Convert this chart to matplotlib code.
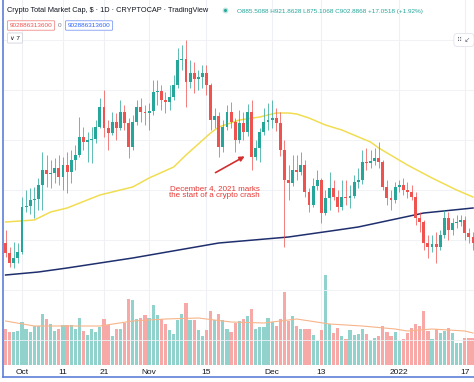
import matplotlib
matplotlib.use("Agg")
import matplotlib.pyplot as plt
import matplotlib.dates as mdates
import numpy as np
import pandas as pd
from matplotlib.lines import Line2D

plt.rcParams['font.family'] = ['Liberation Sans', 'DejaVu Sans']

# ---------------- data (total crypto market cap, $B; volume, $B) ----------------
start_date = "2021-09-27"
first_open = 1782
close = [1722, 1662, 1692, 1728, 1998, 2004, 2040, 2046, 2130, 2220,
         2196, 2202, 2232, 2178, 2250, 2208, 2280, 2310, 2418, 2388,
         2400, 2406, 2478, 2598, 2472, 2442, 2508, 2472, 2568, 2502,
         2358, 2508, 2598, 2568, 2562, 2574, 2688, 2694, 2640, 2628,
         2658, 2730, 2880, 2886, 2748, 2802, 2766, 2778, 2802, 2730,
         2520, 2544, 2358, 2478, 2568, 2508, 2400, 2502, 2448, 2568,
         2298, 2352, 2448, 2508, 2520, 2532, 2502, 2340, 2160, 2142,
         2220, 2208, 2250, 2088, 2010, 2124, 2160, 1962, 2052, 2112,
         2058, 1998, 2058, 2052, 2064, 2148, 2160, 2268, 2262, 2274,
         2292, 2268, 2118, 2052, 2040, 2118, 2130, 2100, 2088, 2058,
         1932, 1908, 1782, 1758, 1776, 1758, 1830, 1932, 1860, 1902,
         1908, 1920, 1842, 1818, 1782]
high = [1860, 1758, 1788, 1782, 2058, 2100, 2112, 2118, 2172, 2328,
        2310, 2280, 2292, 2310, 2298, 2328, 2340, 2370, 2538, 2478,
        2448, 2478, 2520, 2652, 2700, 2520, 2568, 2562, 2640, 2610,
        2532, 2550, 2640, 2652, 2610, 2622, 2760, 2760, 2730, 2688,
        2730, 2790, 2952, 2970, 3000, 2880, 2868, 2820, 2850, 2850,
        2742, 2592, 2568, 2520, 2610, 2628, 2532, 2580, 2568, 2616,
        2640, 2400, 2472, 2592, 2622, 2640, 2592, 2568, 2400, 2250,
        2310, 2310, 2328, 2280, 2112, 2172, 2220, 2172, 2100, 2208,
        2160, 2100, 2160, 2160, 2130, 2190, 2232, 2340, 2352, 2340,
        2352, 2388, 2280, 2160, 2100, 2148, 2160, 2172, 2148, 2130,
        2088, 1968, 1920, 1830, 1830, 1848, 1860, 1980, 1968, 1932,
        1950, 1950, 1944, 1872, 1848]
low = [1698, 1638, 1632, 1662, 1716, 1968, 1956, 1932, 1980, 1980,
       2118, 2112, 2142, 2130, 2100, 2082, 2142, 2220, 2298, 2340,
       2268, 2262, 2382, 2472, 2418, 2340, 2430, 2400, 2460, 2460,
       2292, 2340, 2490, 2508, 2490, 2460, 2550, 2610, 2580, 2562,
       2580, 2640, 2712, 2820, 2598, 2712, 2682, 2700, 2712, 2670,
       2460, 2472, 2298, 2328, 2460, 2472, 2328, 2382, 2400, 2424,
       2220, 2280, 2268, 2430, 2460, 2472, 2454, 2304, 1758, 2040,
       2124, 2160, 2190, 2058, 1968, 1998, 2100, 1902, 1950, 1980,
       2040, 1968, 1980, 2010, 1992, 2052, 2112, 2136, 2220, 2232,
       2250, 2232, 2100, 2010, 1980, 2022, 2088, 2070, 2052, 2040,
       1890, 1848, 1740, 1692, 1728, 1662, 1740, 1812, 1800, 1830,
       1872, 1884, 1800, 1782, 1740]
volume = [108, 99, 99, 102, 129, 108, 99, 117, 117, 153,
          138, 123, 102, 108, 120, 120, 120, 108, 141, 102,
          90, 108, 99, 114, 138, 120, 87, 108, 108, 126,
          198, 195, 138, 141, 150, 141, 180, 150, 138, 123,
          105, 93, 135, 153, 186, 135, 135, 105, 87, 105,
          162, 135, 153, 135, 108, 99, 126, 132, 138, 147,
          168, 108, 114, 114, 141, 129, 117, 138, 219, 132,
          147, 117, 108, 108, 108, 90, 72, 105, 270, 123,
          96, 111, 87, 78, 105, 90, 93, 108, 93, 75,
          81, 87, 117, 99, 87, 99, 72, 78, 96, 111,
          123, 117, 162, 102, 78, 108, 96, 102, 111, 96,
          66, 66, 81, 81, 81]

# moving averages read at sample days (day index from start)
ma_fast_days = [0, 7, 11, 15, 23, 26, 31, 35, 41, 44, 50, 52, 57, 62, 66, 69, 71, 74, 78, 82, 89, 91, 98, 104, 110, 114]
ma_fast = [1908, 1920, 1968, 1992, 2070, 2088, 2118, 2172, 2238, 2310, 2442, 2478, 2520, 2538, 2562, 2562, 2556, 2532, 2490, 2460, 2388, 2352, 2250, 2172, 2100, 2058]
ma_slow_days = [0, 8, 15, 23, 31, 38, 52, 69, 81, 86, 102, 114]
ma_slow = [1590, 1608, 1632, 1662, 1692, 1722, 1782, 1818, 1860, 1878, 1962, 1992]
vol_ma_days = [0, 7, 15, 23, 31, 39, 47, 55, 63, 71, 79, 87, 95, 98, 104, 112, 114]
vol_ma = [132, 117, 117, 117, 132, 138, 141, 129, 126, 138, 123, 117, 108, 102, 108, 102, 96]

tick_dates = ["2021-10-01", "2021-10-11", "2021-10-21", "2021-11-01", "2021-11-15",
              "2021-12-01", "2021-12-13", "2022-01-01", "2022-01-17"]
tick_labels = ["Oct", "11", "21", "Nov", "15", "Dec", "13", "2022", "17"]

header = "Crypto Total Market Cap, $ · 1D · CRYPTOCAP · TradingView"
ohlc_text = "O885.5088 H921.8628 L875.1068 C902.8868 +17.0518 (+1.92%)"
box_value = "902886313600"
note = "December 4, 2021 marks\nthe start of a crypto crash"

# ---------------- derived ----------------
n = len(close)
dates = pd.date_range(start_date, periods=n)
xd = mdates.date2num(dates)
opens = [first_open] + close[:-1]
up_c, dn_c = "#26a69a", "#ef5350"
up_v, dn_v = "#92d2cc", "#f7a9a7"
is_up = [c >= o for o, c in zip(opens, close)]

W, H = 474, 382
fig = plt.figure(figsize=(W / 100, H / 100), dpi=100)
fig.patch.set_facecolor("white")
rect = [3 / W, 17 / H, 471 / W, 365 / H]

axv = fig.add_axes(rect)
axp = fig.add_axes(rect)
axp.patch.set_visible(False)

x0 = xd[0] - 0.63
x1 = xd[0] + 114.24
for a in (axv, axp):
    a.set_xlim(x0, x1)
    for s in a.spines.values():
        s.set_visible(False)

# grid
grid_c = "#eef0f5"
tick_x = mdates.date2num(pd.to_datetime(tick_dates))
for tx in tick_x:
    axv.axvline(tx, color=grid_c, lw=0.8, zorder=0)

# volume
axv.set_ylim(0, 1095)
axv.bar(xd, volume, width=0.78, color=[up_v if u else dn_v for u in is_up], zorder=2, linewidth=0)
axv.plot(xd[0] + np.array(vol_ma_days), vol_ma, color="#f7b48a", lw=0.8, zorder=3)
axv.set_yticks([])
axv.set_xticks(tick_x)
axv.set_xticklabels(tick_labels)
axv.tick_params(axis="x", length=0, pad=3, labelsize=6, labelcolor="#131722")
axv.axhline(0, color="#e0e3eb", lw=0.6, zorder=1)

# price
axp.set_ylim(1050, 3240)
for gy in [1200, 1500, 1800, 2100, 2400, 2700, 3000]:
    axp.axhline(gy, color=grid_c, lw=0.6, zorder=0)
cols = [up_c if u else dn_c for u in is_up]
axp.vlines(xd, low, high, colors=cols, lw=0.7, alpha=0.75, zorder=3)
body_b = [min(o, c) for o, c in zip(opens, close)]
body_h = [max(abs(c - o), 4) for o, c in zip(opens, close)]
axp.bar(xd, body_h, bottom=body_b, width=0.7, color=cols, linewidth=0, zorder=4)
axp.plot(xd[0] + np.array(ma_fast_days), ma_fast, color="#f1dd52", lw=1.1, zorder=2)
axp.plot(xd[0] + np.array(ma_slow_days), ma_slow, color="#1f2f6e", lw=1.1, zorder=2)
axp.set_xticks([])
axp.set_yticks([])

# annotation
axp.annotate("", xy=(xd[0] + 58.9, 2310), xytext=(xd[0] + 50.6, 2196),
             arrowprops=dict(arrowstyle="-|>", color="#d32f2f", lw=1.2, mutation_scale=7),
             zorder=6)
axp.text(xd[0] + 51.0, 2088, note, ha="center", va="center", fontsize=5.8,
         color="#e53935", linespacing=1.15, zorder=6)

# header
fig.text(7 / W, 1 - 11 / H, header, fontsize=5.3, color="#131722", va="center", ha="left")
fig.add_artist(Line2D([225 / W], [1 - 10 / H], marker="o", markersize=3.2,
                      color="#26a69a", markeredgecolor="#b9e4df", markeredgewidth=1.0))
fig.text(237 / W, 1 - 11 / H, ohlc_text, fontsize=4.6, color="#26a69a", va="center", ha="left")
fig.text(31 / W, 1 - 25.5 / H, box_value, fontsize=4.6, color="#ef5350", va="center", ha="center",
         bbox=dict(boxstyle="round,pad=0.35,rounding_size=0.15", fc="white", ec="#f28b88", lw=0.6))
fig.text(60 / W, 1 - 25.5 / H, "0", fontsize=4.6, color="#787b86", va="center", ha="center")
fig.text(89 / W, 1 - 25.5 / H, box_value, fontsize=4.6, color="#2962ff", va="center", ha="center",
         bbox=dict(boxstyle="round,pad=0.35,rounding_size=0.15", fc="white", ec="#7f9cf5", lw=0.6))
fig.text(15 / W, 1 - 38 / H, "∨ 7", fontsize=4.6, color="#131722", va="center", ha="center",
         bbox=dict(boxstyle="round,pad=0.4,rounding_size=0.15", fc="white", ec="#d1d4dc", lw=0.6))

# top-right small button
fig.text(464 / W, 1 - 40 / H, "⠿ ↙", fontsize=5, color="#6a6d78", va="center", ha="center",
         family=["DejaVu Sans"],
         bbox=dict(boxstyle="round,pad=0.5", fc="white", ec="#e0e3eb", lw=0.6))

# frame lines (left and bottom, blue)
fig.add_artist(Line2D([2.7 / W, 2.7 / W], [1 - 377 / H, 1.0], color="#5d7fd8", lw=1.2))
fig.add_artist(Line2D([2.7 / W, 1.0], [1 - 377 / H, 1 - 377 / H], color="#5d7fd8", lw=1.2))

fig.savefig("out.png", dpi=100, facecolor="white")
